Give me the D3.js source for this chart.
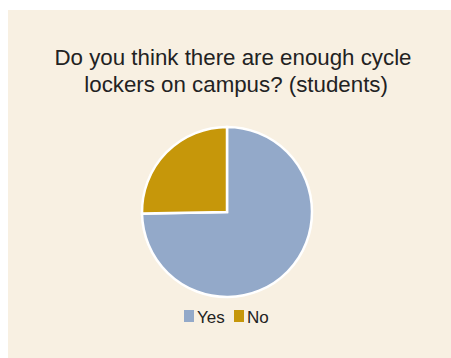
<!DOCTYPE html>
<html>
<head>
<meta charset="utf-8">
<script src="https://cdn.jsdelivr.net/npm/d3@7"></script>
<style>
  html, body { margin: 0; padding: 0; background: #ffffff; }
  svg { display: block; }
</style>
</head>
<body>
<svg id="chart" width="451" height="358"></svg>
<script>
// Survey answers: share of students per answer
const categories = ["Yes", "No"];
const values = [74.7, 25.3];
const colors = ["#93A9C9", "#C6970A"];
const titleLines = ["Do you think there are enough cycle", " lockers on campus? (students)"];

const svg = d3.select("#chart");
const W = 451, H = 358;

// panel background
svg.append("rect")
  .attr("x", 8).attr("y", 10)
  .attr("width", W - 8).attr("height", H - 10)
  .attr("fill", "#F8F0E2");

// title
const title = svg.append("text")
  .attr("text-anchor", "middle")
  .attr("font-family", "'Liberation Sans', Arial, sans-serif")
  .attr("font-size", 22.3)
  .attr("fill", "#222222");
titleLines.forEach((line, i) => {
  title.append("tspan")
    .attr("x", 233)
    .attr("y", 65 + i * 27)
    .attr("xml:space", "preserve")
    .style("white-space", "pre")
    .text(line);
});

// pie
const cx = 227, cy = 212, r = 85;
const color = d3.scaleOrdinal().domain(categories).range(colors);
const pie = d3.pie().sort(null).value(d => d.value);
const arc = d3.arc().innerRadius(0).outerRadius(r);
const data = categories.map((c, i) => ({ name: c, value: values[i] }));

svg.append("g")
  .attr("transform", `translate(${cx},${cy})`)
  .selectAll("path")
  .data(pie(data))
  .join("path")
  .attr("d", arc)
  .attr("fill", d => color(d.data.name))
  .attr("stroke", "#ffffff")
  .attr("stroke-width", 2.5)
  .attr("stroke-linejoin", "miter");

// legend
const legendX = [184, 234];
const legend = svg.append("g")
  .attr("font-family", "'Liberation Sans', Arial, sans-serif")
  .attr("font-size", 17)
  .attr("fill", "#222222");
categories.forEach((c, i) => {
  legend.append("rect")
    .attr("x", legendX[i]).attr("y", 310)
    .attr("width", 10).attr("height", 12)
    .attr("fill", color(c));
  legend.append("text")
    .attr("x", legendX[i] + 13)
    .attr("y", 323)
    .text(c);
});
</script>
</body>
</html>
